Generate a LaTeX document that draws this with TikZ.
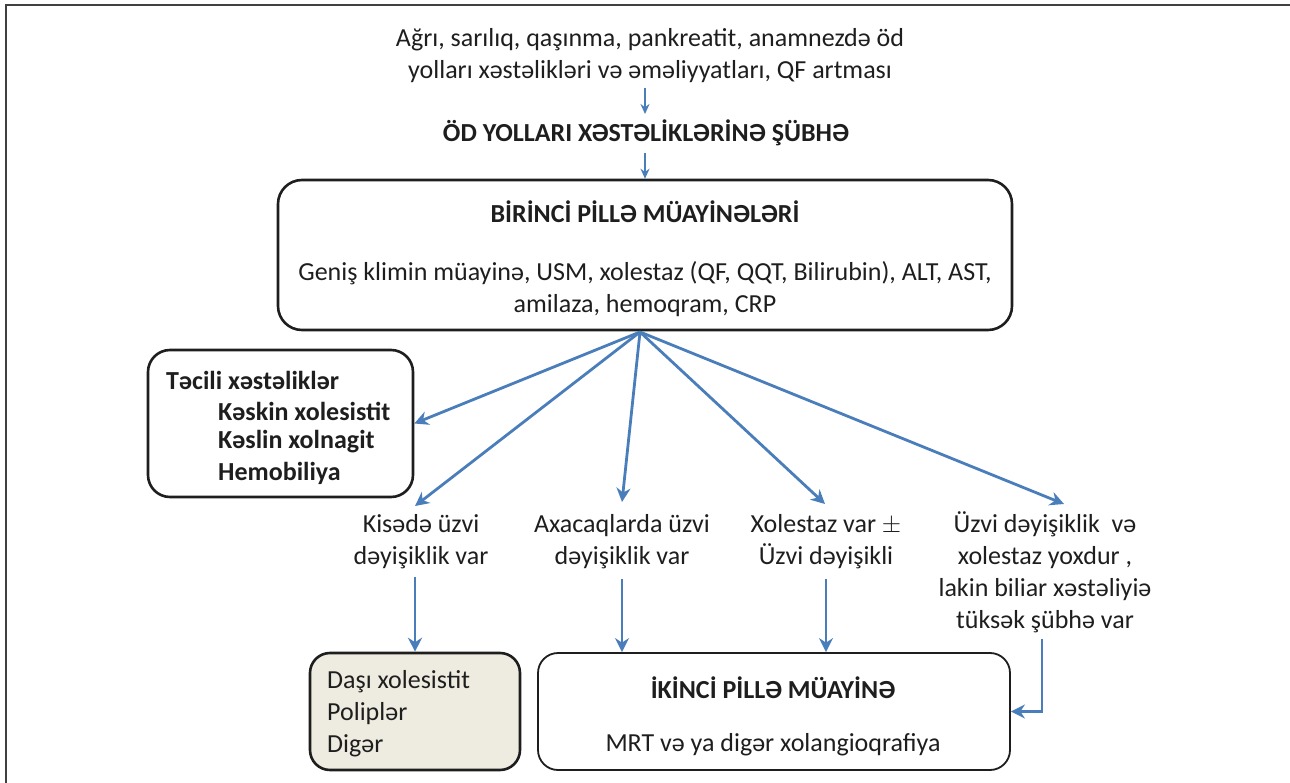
\documentclass[tikz,border=0pt]{standalone}
\usepackage{fontspec}
\setmainfont{Carlito}
\usetikzlibrary{arrows.meta}
\definecolor{arrowblue}{HTML}{4A7EBB}
\definecolor{ink}{HTML}{1E1E1E}
\definecolor{beige}{HTML}{EEEBE0}
\newcommand{\basefont}{\fontsize{26}{32}\selectfont}
\begin{document}
\begin{tikzpicture}[x=1pt,y=-1pt,
  font=\basefont, text=ink,
  arr/.style={draw=arrowblue, line width=2.8pt, -{Stealth[length=14pt,width=14pt]}},
  thin arr/.style={draw=arrowblue, line width=1.8pt, -{Stealth[length=10pt,width=9pt]}},
  rbox/.style={draw=ink, line width=2.6pt, rounded corners=24pt, fill=white},
  lbl/.style={align=center, inner sep=0pt},
  head/.style={lbl, font=\basefont\bfseries},
  txt/.style={inner sep=0pt, anchor=west},
  btxt/.style={txt, font=\basefont\bfseries}]
\useasboundingbox (0,0) rectangle (1290,783);

% outer frame (top and left edges)
\draw[line width=1.6pt, ink!85] (6,783) -- (6,5) -- (1290,5);

% heading texts
\node[lbl] (sym) at (650,56) {Ağrı, sarılıq, qaşınma, pankreatit, anamnezdə öd\\yolları xəstəlikləri və əməliyyatları, QF artması};
\node[head] (susp) at (646,133) {ÖD YOLLARI XƏSTƏLİKLƏRİNƏ ŞÜBHƏ};

% first stage box
\node[rbox, minimum width=734pt, minimum height=150pt] (b1) at (645,255) {};
\node[head] (b1t) at (645,212) {BİRİNCİ PİLLƏ MÜAYİNƏLƏRİ};
\node[lbl] (b1b) at (645,289) {Geniş klimin müayinə, USM, xolestaz (QF, QQT, Bilirubin), ALT, AST,\\amilaza, hemoqram, CRP};

\draw[thin arr] (645,88) -- (645,114);
\draw[thin arr] (645,153) -- (b1.north);

% urgent conditions box
\node[rbox, rounded corners=22pt, minimum width=265pt, minimum height=147pt] (urg) at (280.5,423.5) {};
\node[btxt] (u0) at (166,380) {Təcili xəstəliklər};
\node[btxt] (u1) at (218,411) {Kəskin xolesistit};
\node[btxt] (u2) at (218,442) {Kəslin xolnagit};
\node[btxt] (u3) at (218,473) {Hemobiliya};

% branch labels
\node[lbl] (kis) at (421,542) {Kisədə üzvi\\dəyişiklik var};
\node[lbl] (axa) at (622,542) {Axacaqlarda üzvi\\dəyişiklik var};
\node[lbl] (xol) at (826,542) {Xolestaz var $\pm$\\Üzvi dəyişikli};
\node[lbl] (uzv) at (1045,572) {Üzvi dəyişiklik\ \ və\\xolestaz yoxdur ,\\lakin biliar xəstəliyiə\\tüksək şübhə var};

% fan of arrows from the first stage
\coordinate (fan) at (640,332);
\draw[arr] (fan) -- (urg.east);
\draw[arr] (fan) -- (415,506);
\draw[arr] (fan) -- (622,502);
\draw[arr] (fan) -- (825,504);
\draw[arr] (fan) -- (1064,504);

% result boxes
\node[rbox, fill=beige, rounded corners=20pt, minimum width=210pt, minimum height=117pt] (dasi) at (415,711.5) {};
\node[txt, align=left] (dasit) at (327,714) {Daşı xolesistit\\Poliplər\\Digər};

\node[rbox, line width=1.8pt, rounded corners=20pt, minimum width=472pt, minimum height=117pt] (ik) at (774,711.5) {};
\node[head] (ikt) at (773,688) {İKİNCİ PİLLƏ MÜAYİNƏ};
\node[lbl] (ikb) at (773,745) {MRT və ya digər xolangioqrafiya};

% arrows to the second level
\draw[arr] ([yshift=-8pt]dasi.north |- kis.south) -- (dasi.north);
\draw[arr] ([yshift=-10pt]axa.south) -- (axa.south |- ik.north);
\draw[arr] ([yshift=-10pt]xol.south) -- (xol.south |- ik.north);
\draw[arr] ([xshift=-3pt,yshift=-6pt]uzv.south) |- (ik.east);
\end{tikzpicture}
\end{document}
